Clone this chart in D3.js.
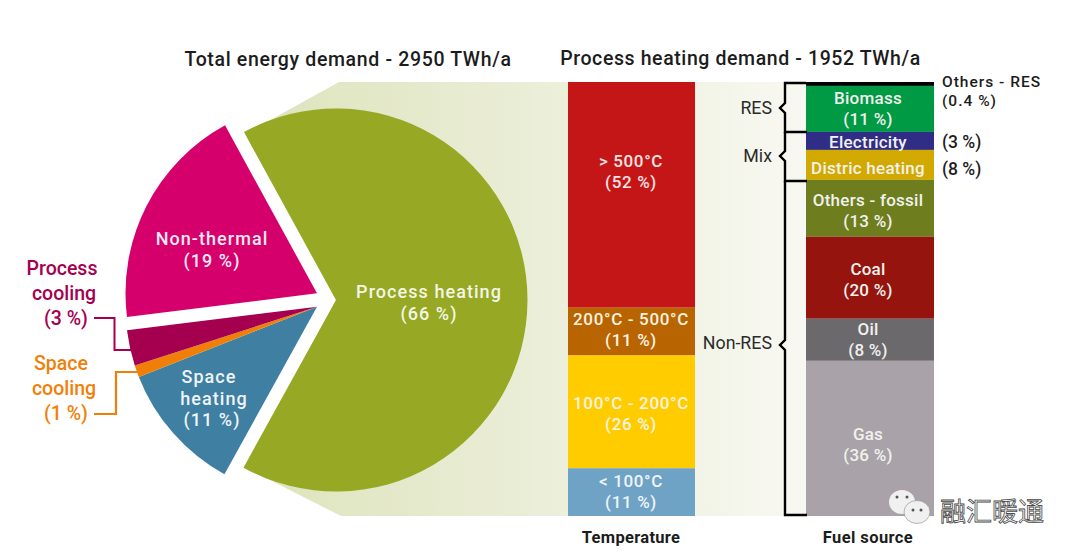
<!DOCTYPE html>
<html>
<head>
<meta charset="utf-8">
<script src="https://cdn.jsdelivr.net/npm/d3@7"></script>
<style>
html, body { margin: 0; padding: 0; background: #fff; overflow: hidden; }
svg { display: block; }
text { font-family: Roboto, "Liberation Sans", sans-serif; font-weight: 500; }
</style>
</head>
<body>
<div id="main"></div>
<script>
// pie: clockwise starting from the process heating slice
const pieNames = ["Process heating", "Space heating", "Space cooling", "Process cooling", "Non-thermal"];
const pieValues = [66, 11, 1, 3, 19];
const pieColors = ["#96a824", "#3f7fa2", "#f07f09", "#a5004f", "#d6006c"];

// left column, printed shares
const tempNames = ["> 500°C", "200°C - 500°C", "100°C - 200°C", "< 100°C"];
const tempValues = [52, 11, 26, 11];
const tempColors = ["#c51617", "#b86400", "#ffcc00", "#6fa3c6"];

// right column, drawn heights (they differ a bit from the printed %)
const fuelNames = ["Others - RES", "Biomass", "Electricity", "Distric heating", "Others - fossil", "Coal", "Oil", "Gas"];
const fuelHeights = [0.9, 10.6, 4.15, 6.9, 13.1, 18.9, 9.7, 35.75];
const fuelPrinted = ["(0.4 %)", "(11 %)", "(3 %)", "(8 %)", "(13 %)", "(20 %)", "(8 %)", "(36 %)"];
const fuelColors = ["#000000", "#009a44", "#2f2d86", "#d1a900", "#6e7d1e", "#95140d", "#6c696d", "#a9a2a8"];

const ctx = { w: 1080, h: 556, top: 82, bottom: 516 };

const svg = d3.select("#main").append("svg")
    .attr("width", ctx.w)
    .attr("height", ctx.h);

const grad = svg.append("defs").append("linearGradient")
    .attr("id", "fade")
    .attr("gradientUnits", "userSpaceOnUse")
    .attr("x1", 245).attr("x2", 806).attr("y1", 0).attr("y2", 0);
grad.append("stop").attr("offset", 0).attr("stop-color", "#dde3bb");
grad.append("stop").attr("offset", 1).attr("stop-color", "#f8f8f2");

// pale wedge from the pie to the columns, notched so the gaps stay white
svg.append("path")
    .attr("d", "M245,134 L339,82 L806,82 L806,516 L341,516 L246,468 L336,300 Z")
    .attr("fill", "url(#fade)");

// ---- pie ----
const startAngle = -28.7 * Math.PI / 180;
const pie = d3.pie().sort(null).value(d => d)
    .startAngle(startAngle).endAngle(startAngle + 2 * Math.PI);
const arc = d3.arc().innerRadius(0).outerRadius(191.5);
const sliceCenter = [[336, 300], [317, 306.7], [317, 306.7], [317, 306.7], [317, 293.3]];

svg.append("g").selectAll("path")
    .data(pie(pieValues))
    .enter().append("path")
    .attr("d", arc)
    .attr("transform", (d, i) => "translate(" + sliceCenter[i] + ")")
    .attr("fill", (d, i) => pieColors[i]);

// leader lines
const line = d3.line();
svg.append("path")
    .attr("d", line([[94, 318], [114.5, 318], [114.5, 350], [132, 350]]))
    .attr("fill", "none").attr("stroke", "#a5004f").attr("stroke-width", 2);
svg.append("path")
    .attr("d", line([[94, 414], [116, 414], [116, 372], [139, 372]]))
    .attr("fill", "none").attr("stroke", "#f07f09").attr("stroke-width", 2.2);

// ---- columns ----
const y = d3.scaleLinear().domain([0, 100]).range([ctx.top, ctx.bottom]);

function stack(values) {
    let sum = 0;
    return values.map(v => { const s = sum; sum += v; return [s, sum]; });
}

const xTemp = { x: 568, w: 127 };
const xFuel = { x: 806, w: 128 };

svg.append("g").selectAll("rect")
    .data(stack(tempValues))
    .enter().append("rect")
    .attr("x", xTemp.x).attr("width", xTemp.w)
    .attr("y", d => y(d[0]))
    .attr("height", d => y(d[1]) - y(d[0]))
    .attr("fill", (d, i) => tempColors[i]);

svg.append("g").selectAll("rect")
    .data(stack(fuelHeights))
    .enter().append("rect")
    .attr("x", xFuel.x).attr("width", xFuel.w)
    .attr("y", d => y(d[0]))
    .attr("height", d => y(d[1]) - y(d[0]))
    .attr("fill", (d, i) => fuelColors[i]);

// brackets
const brackets = svg.append("g").attr("fill", "none").attr("stroke", "#000")
    .attr("stroke-width", 2.4);
brackets.append("path").attr("d", "M806,83 H785 V103 L780,108 L785,113 V132 H807");
brackets.append("path").attr("d", "M785,132 V151 L780,156 L785,161 V181 H807");
brackets.append("path").attr("d", "M785,181 V340 L780,345 L785,350 V515 H807");

// ---- text ----
function label(x, yy, str, color, size, anchor, weight, spacing) {
    return svg.append("text")
        .attr("x", x).attr("y", yy)
        .attr("text-anchor", anchor || "middle")
        .attr("dominant-baseline", "central")
        .attr("fill", color)
        .style("font-size", size + "px")
        .style("font-weight", weight || 500)
        .style("letter-spacing", (spacing || 0) + "px")
        .text(str);
}

label(348, 59, "Total energy demand - 2950 TWh/a", "#1c1c1c", 19.5, "middle", 500, 0.65);
label(740.5, 58, "Process heating demand - 1952 TWh/a", "#1c1c1c", 19.5, "middle", 500, 0.6);

// pie labels
const pieText = { size: 18, spacing: 1.05 };
function pieLabel(x, yy, str) {
    label(x, yy, str, yy > 350 ? "#eef4f8" : (x > 300 ? "#f4f6e4" : "#fbe9f2"), pieText.size, "middle", 500, pieText.spacing);
}
pieLabel(429, 291.5, pieNames[0]);
pieLabel(429, 313, "(" + pieValues[0] + " %)");
pieLabel(212, 238.5, pieNames[4]);
pieLabel(212, 260, "(" + pieValues[4] + " %)");
pieLabel(209, 376.5, "Space");
pieLabel(214, 398, "heating");
pieLabel(212, 419.5, "(" + pieValues[1] + " %)");

label(62, 268, "Process", "#a5004f", 19.5);
label(64, 293, "cooling", "#a5004f", 19.5);
label(66, 318, "(" + pieValues[3] + " %)", "#a5004f", 19.5);
label(61, 363, "Space", "#f07f09", 19.5);
label(64, 388, "cooling", "#f07f09", 19.5);
label(66, 413, "(" + pieValues[2] + " %)", "#f07f09", 19.5);

// temperature labels
const tempLabelY = [161, 319, 403, 481];
tempNames.forEach((n, i) => {
    const c = i === 3 ? "#eef4f8" : (i === 0 ? "#f9e3e3" : "#fbf3e0");
    label(631, tempLabelY[i], n, c, 17, "middle", 500, 0.65);
    label(631, tempLabelY[i] + 20.5, "(" + tempValues[i] + " %)", c, 17, "middle", 500, 0.65);
});

// fuel labels
const fuelLabelY = [0, 98, 142, 168, 200, 269, 329, 434];
fuelNames.forEach((n, i) => {
    if (i === 0) return;
    label(868, fuelLabelY[i], n, "#f1f1ee", 17, "middle", 500, 0.25);
    if (i !== 2 && i !== 3) {
        label(868, fuelLabelY[i] + 20.5, fuelPrinted[i], "#f1f1ee", 17, "middle", 500, 0.25);
    }
});

// right of fuel column
label(942, 82, fuelNames[0], "#1c1c1c", 15.5, "start", 500, 1);
label(942, 100.5, fuelPrinted[0], "#1c1c1c", 15.5, "start", 500, 1);
label(942, 142, fuelPrinted[2], "#1c1c1c", 17.5, "start");
label(942, 169, fuelPrinted[3], "#1c1c1c", 17.5, "start");

// bracket names
label(772, 107, "RES", "#2b2b2b", 17.8, "end", 400);
label(772, 155, "Mix", "#2b2b2b", 17.8, "end", 400);
label(772, 342, "Non-RES", "#2b2b2b", 17.8, "end", 400);

// column captions
label(631, 537, "Temperature", "#1c1c1c", 16.5, "middle", 700, 0.3);
label(868, 537, "Fuel source", "#1c1c1c", 16.5, "middle", 700, 0.4);

// watermark
const mark = svg.append("g");
mark.append("ellipse").attr("cx", 902).attr("cy", 502).attr("rx", 13).attr("ry", 12).attr("fill", "#f1f0f1");
mark.append("ellipse").attr("cx", 917).attr("cy", 512).attr("rx", 13).attr("ry", 11.5)
    .attr("fill", "#f1f0f1").attr("stroke", "#8d8a8d").attr("stroke-width", 0.6);
[[897, 497], [907, 497], [913, 510], [921, 510]].forEach(p => {
    mark.append("circle").attr("cx", p[0]).attr("cy", p[1]).attr("r", 1.5).attr("fill", "#555");
});
svg.append("text")
    .attr("x", 940).attr("y", 509)
    .attr("dominant-baseline", "central")
    .attr("fill", "#fff").attr("stroke", "#4a4a4a").attr("stroke-width", 0.8)
    .style("font-family", '"Noto Sans CJK SC"')
    .style("font-size", "26px")
    .style("font-weight", 400)
    .text("融汇暖通");
</script>
</body>
</html>
